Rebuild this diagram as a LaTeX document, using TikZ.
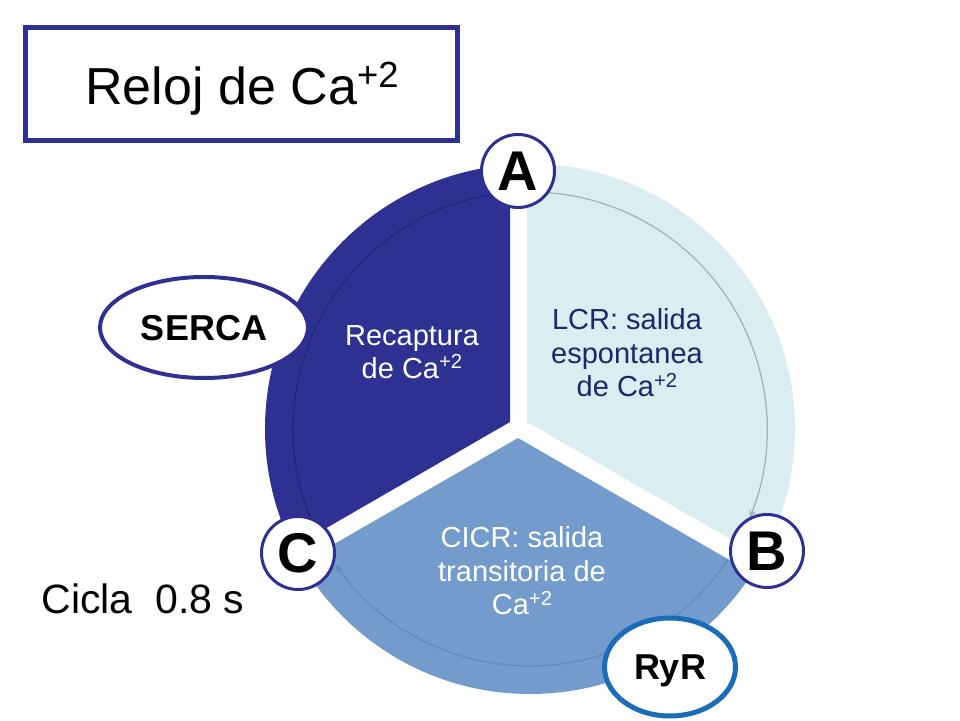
\documentclass[tikz,border=0pt]{standalone}
\usepackage{fontspec}
\setmainfont{Liberation Sans}
\usetikzlibrary{arrows.meta,shapes.geometric}
\definecolor{navy}{RGB}{46,49,146}
\definecolor{pale}{RGB}{218,237,240}
\definecolor{midblue}{RGB}{115,155,204}
\definecolor{txtnavy}{RGB}{31,38,106}
\definecolor{ryrblue}{RGB}{26,110,185}
\definecolor{ringdark}{RGB}{34,36,118}
\definecolor{ringpale}{RGB}{160,176,182}
\definecolor{ringmid}{RGB}{96,136,190}
\newcommand\casup[1]{\raisebox{0.34em}{\scalebox{0.7}{#1}}}
\begin{document}
\begin{tikzpicture}[x=1pt,y=1pt,
  sectortext/.style={align=center,font=\fontsize{29}{33.5}\selectfont},
  letterbox/.style={circle,draw=navy,line width=3pt,fill=white,minimum size=73pt,inner sep=0pt,font=\fontsize{56}{60}\selectfont\bfseries},
  ring/.style={line width=1.2pt,-{Stealth[length=8pt,width=7pt]}},
  tagbox/.style={ellipse,fill=white,inner sep=0pt,font=\fontsize{36}{40}\selectfont\bfseries,text depth=0pt}]
\useasboundingbox (0,0) rectangle (960,720);
\fill[white] (0,0) rectangle (960,720);
\coordinate (O) at (530,291);
% pie sectors
\begin{scope}
\clip (O) circle (265pt);
\fill[navy] (510,298) -- (510,620) -- (200,620) -- (200,119) -- cycle;
\fill[pale] (527,298) -- (527,620) -- (850,620) -- (850,112) -- cycle;
\fill[midblue] (518,282) -- (200,98.5) -- (200,-30) -- (850,-30) -- (850,90.4) -- cycle;
\end{scope}
% inner circular arrows
\begin{scope}
\clip (510,298) -- (510,620) -- (200,620) -- (200,119) -- cycle;
\draw[ring,draw=ringdark] (O) ++(208:237pt) arc[start angle=208,end angle=98,radius=237pt];
\end{scope}
\begin{scope}
\clip (527,298) -- (527,620) -- (850,620) -- (850,112) -- cycle;
\draw[ring,draw=ringpale] (O) ++(88:237pt) arc[start angle=88,end angle=-22,radius=237pt];
\end{scope}
\begin{scope}
\clip (518,282) -- (200,98.5) -- (200,-30) -- (850,-30) -- (850,90.4) -- cycle;
\draw[ring,draw=ringmid] (O) ++(-30:237pt) arc[start angle=-30,end angle=-145,radius=237pt];
\end{scope}
% sector texts
\node[sectortext,text=white] (recap) at (412,368) {Recaptura\\de Ca\casup{+2}};
\node[sectortext,text=txtnavy] (lcr) at (627,367) {LCR: salida\\espontanea\\de Ca\casup{+2}};
\node[sectortext,text=white] (cicr) at (522,149) {CICR: salida\\transitoria de\\Ca\casup{+2}};
% title
\draw[navy,line width=5pt] (25.5,692.5) rectangle (457.5,579.5);
\node[anchor=base,font=\fontsize{52}{56}\selectfont] (title) at (242,615) {Reloj de Ca\casup{+2}};
% tags
\node[tagbox,draw=navy,line width=4pt,minimum width=208pt,minimum height=101pt] (serca) at (204,392.5) {SERCA};
\node[tagbox,draw=ryrblue,line width=5pt,minimum width=131pt,minimum height=98pt] (ryr) at (670,53) {RyR};
% letters
\node[letterbox] (A) at (518,549) {A};
\node[letterbox] (B) at (767,169) {B};
\node[letterbox] (C) at (298,167) {C};
% cycle time
\node[anchor=base west,font=\fontsize{41}{45}\selectfont] (cicla) at (38,107) {Cicla\ \ 0.8 s};
\end{tikzpicture}
\end{document}
